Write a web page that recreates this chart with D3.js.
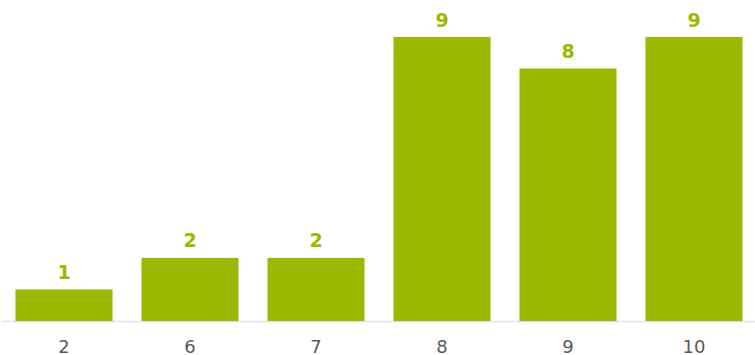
<!DOCTYPE html>
<html><head><meta charset="utf-8">
<script src="https://cdn.jsdelivr.net/npm/d3@7"></script>
<style>body{margin:0;background:#fff}svg{display:block}</style>
</head><body>
<svg id="c" width="755" height="355"></svg>
<script>
const categories = ["2","6","7","8","9","10"];
const values = [1,2,2,9,8,9];

const svg = d3.select("#c");
const W = 755, baseY = 321, topY = 37;
const x = d3.scaleBand().domain(categories).range([1,757]).paddingInner(0.23).paddingOuter(0.115);
const y = d3.scaleLinear().domain([0,9]).range([baseY, topY]);
const color = "#9cb800";

svg.append("line").attr("x1",1).attr("x2",W).attr("y1",baseY+0.5).attr("y2",baseY+0.5)
  .attr("stroke","#e3e3e3").attr("stroke-width",1.5);

svg.selectAll("rect.bar").data(values).join("rect").attr("class","bar")
  .attr("x",(d,i)=>x(categories[i])).attr("width",x.bandwidth())
  .attr("y",d=>y(d)).attr("height",d=>baseY-y(d)).attr("fill",color);

svg.selectAll("text.val").data(values).join("text").attr("class","val")
  .attr("x",(d,i)=>x(categories[i])+x.bandwidth()/2).attr("y",d=>y(d)-10.5)
  .attr("text-anchor","middle").attr("fill",color)
  .style("font-family","'DejaVu Sans', Verdana, sans-serif").style("font-weight","bold").style("font-size","19px")
  .text(d=>d);

const axis = d3.axisBottom(x).tickSize(0).tickPadding(0);
const g = svg.append("g").attr("transform",`translate(0,${baseY})`).call(axis);
g.select(".domain").remove();
g.selectAll("text").attr("dy",null).attr("y",31.5).attr("fill","#595959")
  .style("font-family","'DejaVu Sans', Verdana, sans-serif").style("font-size","18px");
</script>
</body></html>
